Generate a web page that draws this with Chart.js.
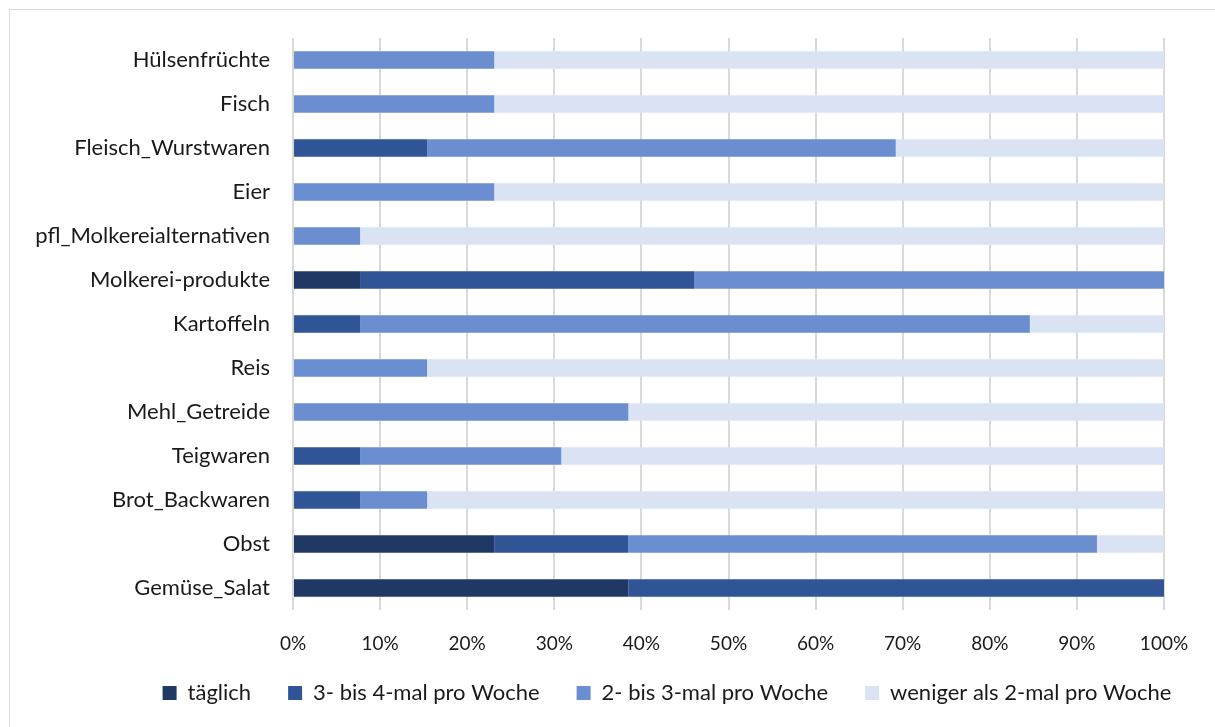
<!DOCTYPE html>
<html>
<head>
<meta charset="utf-8">
<script src="https://cdn.jsdelivr.net/npm/chart.js@4.4.1/dist/chart.umd.min.js"></script>
<style>
  html, body { margin: 0; padding: 0; background: #fff; overflow: hidden; }
  #frame { position: absolute; left: 9px; top: 9px; width: 1300px; height: 800px; border: 1px solid #d9d9d9; }
  #wrap { position: absolute; left: 0; top: 0; width: 1215px; height: 729px; }
</style>
</head>
<body>
<div id="frame"></div>
<div id="wrap"><canvas id="chart"></canvas></div>
<script>
// Lebensmittel, von oben nach unten
const categories = [
  "Hülsenfrüchte", "Fisch", "Fleisch_Wurstwaren", "Eier", "pfl_Molkereialternativen",
  "Molkerei-produkte", "Kartoffeln", "Reis", "Mehl_Getreide", "Teigwaren",
  "Brot_Backwaren", "Obst", "Gemüse_Salat"
];

// Anteile in Prozent je Häufigkeit
const taeglich     = [0, 0, 0, 0, 0, 7.7, 0, 0, 0, 0, 0, 23.1, 38.5];
const dreiBisVier  = [0, 0, 15.4, 0, 0, 38.4, 7.7, 0, 0, 7.7, 7.7, 15.4, 61.5];
const zweiBisDrei  = [23.1, 23.1, 53.8, 23.1, 7.7, 53.9, 76.9, 15.4, 38.5, 23.1, 7.7, 53.8, 0];
const wenigerAls2  = [76.9, 76.9, 30.8, 76.9, 92.3, 0, 15.4, 84.6, 61.5, 69.2, 84.6, 7.7, 0];

const seriesNames = ["täglich", "3- bis 4-mal pro Woche", "2- bis 3-mal pro Woche", "weniger als 2-mal pro Woche"];
const seriesColors = ["#203864", "#2f5597", "#6a8ecf", "#dae3f3"];
const xTicks = [0, 10, 20, 30, 40, 50, 60, 70, 80, 90, 100];

const FONT = "Lato, 'Open Sans', sans-serif";
const TEXT = "#1a1a1a";

// Legende etwas nach rechts und nach oben schieben
const legendShift = {
  id: "legendShift",
  afterLayout(chart) {
    const lg = chart.legend;
    lg.left += 85;
    lg.right += 85;
    lg.top -= 15;
    lg.bottom -= 15;
  }
};

const ctx = document.getElementById("chart");
const chart = new Chart(ctx, {
  type: "bar",
  data: {
    labels: categories,
    datasets: [taeglich, dreiBisVier, zweiBisDrei, wenigerAls2].map((d, i) => ({
      label: seriesNames[i],
      data: d,
      backgroundColor: seriesColors[i],
      borderWidth: 0,
      barPercentage: 0.4,
      categoryPercentage: 1
    }))
  },
  options: {
    indexAxis: "y",
    responsive: true,
    maintainAspectRatio: false,
    animation: false,
    layout: { padding: { top: 38, right: 51, left: 0, bottom: 0 } },
    scales: {
      x: {
        stacked: true,
        min: 0,
        max: 100,
        afterBuildTicks: s => { s.ticks = xTicks.map(v => ({ value: v })); },
        ticks: {
          color: TEXT,
          font: { family: FONT, size: 19 },
          padding: 22,
          callback: v => v + "%"
        },
        grid: { color: "#d9d9d9", lineWidth: 2, drawTicks: false },
        border: { display: false },
        afterFit: s => { s.height = 50; }
      },
      y: {
        stacked: true,
        ticks: {
          color: TEXT,
          font: { family: FONT, size: 22 },
          padding: 15
        },
        grid: { display: false },
        border: { display: false },
        afterFit: s => { s.width = 293; }
      }
    },
    plugins: {
      tooltip: { enabled: false },
      legend: {
        position: "bottom",
        labels: {
          color: TEXT,
          font: { family: FONT, size: 22 },
          boxWidth: 14,
          boxHeight: 14,
          padding: 37
        }
      }
    }
  },
  plugins: [legendShift]
});
</script>
</body>
</html>
